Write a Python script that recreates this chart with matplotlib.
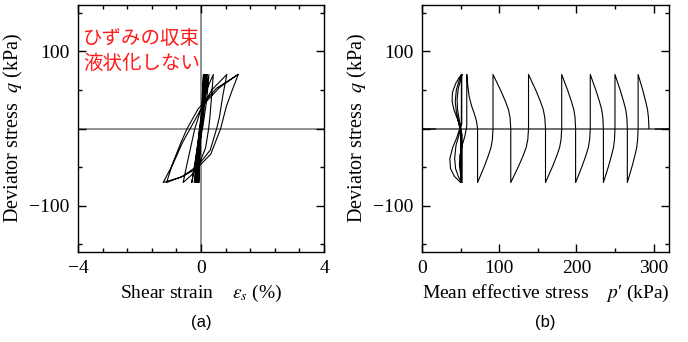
import numpy as np
import matplotlib
matplotlib.use("Agg")
import matplotlib.pyplot as plt

plt.rcParams['font.family'] = ['Liberation Serif', 'DejaVu Serif']
plt.rcParams['mathtext.fontset'] = 'stix'

# (a) shear strain (%) vs deviator stress (kPa), followed point by point
path_a = [
    (0, 0), (0.03, 35), (0.08, 70),
    (0.05, 35), (0.0, 0), (-0.04, -35), (-0.07, -70),
    (-0.04, -35), (0.01, 0), (0.06, 35), (0.11, 70),
    (0.07, 35), (0.0, 0), (-0.05, -35), (-0.10, -70),
    (-0.06, -35), (0.0, 0), (0.07, 35), (0.14, 70),
    (0.09, 35), (0.0, 0), (-0.07, -35), (-0.13, -70),
    (-0.08, -35), (-0.01, 0), (0.08, 35), (0.17, 70),
    (0.10, 35), (0.0, 0), (-0.09, -35), (-0.17, -70),
    (-0.11, -35), (-0.02, 0), (0.09, 35), (0.21, 70),
    (0.13, 35), (0.02, 0), (-0.11, -35), (-0.22, -70),
    (-0.15, -35), (-0.04, 0), (0.11, 35), (0.26, 70),
    (0.18, 35), (0.05, 0), (-0.14, -35), (-0.30, -70),
    (-0.20, -45), (-0.10, -18), (-0.05, 0), (0.03, 25), (0.18, 50), (0.40, 70),
    (0.35, 45), (0.29, 15), (0.25, 0), (0.15, -25), (-0.05, -45), (-0.30, -60), (-0.58, -70),
    (-0.45, -45), (-0.30, -18), (-0.20, 0), (0.0, 25), (0.35, 50), (0.84, 70),
    (0.72, 45), (0.60, 15), (0.51, 0), (0.30, -28), (-0.10, -48), (-0.60, -62), (-1.12, -70),
    (-0.92, -45), (-0.65, -18), (-0.45, 0), (-0.10, 25), (0.50, 52), (1.21, 70),
    (1.00, 48), (0.82, 28), (0.64, 0), (0.32, -33), (-0.14, -52), (-0.65, -63), (-1.23, -70),
    (-0.90, -45), (-0.60, -18), (-0.35, 0), (0.08, 31), (0.60, 53), (1.20, 70),
]

# (b) mean effective stress p' (kPa) vs deviator stress (kPa)
path_b = [
    (294, 0), (293.4, 14), (292.2, 24.5), (289.8, 35), (286.2, 49), (283.1, 59.5), (280, 70),
    (280, 0), (279.4, -14), (278.2, -24.5), (275.8, -35), (272.2, -49), (269.1, -59.5), (266, -70),
    (266, 0), (265.4, 14), (263.9, 24.5), (261.2, 35), (257.0, 49), (253.5, 59.5), (250, 70),
    (250, 0), (249.4, -14), (248.1, -24.5), (245.5, -35), (241.6, -49), (238.3, -59.5), (235, -70),
    (235, 0), (234.3, 14), (232.8, 24.5), (229.9, 35), (225.5, 49), (221.7, 59.5), (218, 70),
    (218, 0), (217.2, -14), (215.5, -24.5), (212.3, -35), (207.4, -49), (203.2, -59.5), (199, -70),
    (199, 0), (198.3, 14), (196.7, 24.5), (193.6, 35), (188.9, 49), (185.0, 59.5), (181, 70),
    (181, 0), (180.2, -14), (178.3, -24.5), (174.7, -35), (169.2, -49), (164.6, -59.5), (160, -70),
    (160, 0), (159.1, 14), (157.1, 24.5), (153.4, 35), (147.7, 49), (142.8, 59.5), (138, 70),
    (138, 0), (137.1, -14), (135.0, -24.5), (131.1, -35), (125.1, -49), (120.1, -59.5), (115, -70),
    (115, 0), (114.1, 14), (112.0, 24.5), (108.1, 35), (102.1, 49), (97.1, 59.5), (92, 70),
    (92, 0), (91.2, -14), (89.4, -24.5), (86.0, -35), (80.8, -49), (76.4, -59.5), (72, -70),
    (72, 0), (70.5, 10), (67.5, 20), (64, 30), (61, 42), (59.3, 56), (58, 70),
    (58, 3), (55.5, -10), (52, -22), (49, -35), (48.5, -48), (50, -60), (52, -70),
    (52, -8), (50, 0), (46, 12), (41.5, 24), (39, 35), (39.5, 47), (43.5, 58), (47.5, 65), (51, 70),
    (51, 8), (49, 0), (45, -12), (40, -24), (36, -39), (37, -52), (42, -62), (46, -66), (50, -70),
    (50, -6), (49, 0), (47, 10), (44.5, 22), (43, 35), (44.5, 50), (48, 62), (51.5, 70),
    (51.5, 6), (50, 0), (47.5, -10), (44, -22), (42.3, -39), (43.5, -52), (47, -62), (51, -70),
    (51, -5), (50, 0), (48.5, 10), (46, 25), (45.5, 38), (47, 52), (50, 63), (52, 70),
]

fig = plt.figure(figsize=(6.88, 3.42), dpi=100)
ax_a = fig.add_axes([78/688, 1-252/342, 246/688, 247/342])
ax_b = fig.add_axes([422/688, 1-252/342, 247/688, 247/342])

grey = '#7f7f7f'
for ax in (ax_a, ax_b):
    ax.set_ylim(-160, 160)
    ax.set_yticks([-100, 0, 100], ['\u2212100', '', '100'])
    ax.set_yticks([-150, -50, 50, 150], minor=True)
    ax.tick_params(which='both', direction='in', top=True, right=True,
                   labelsize=14, width=1)
    ax.tick_params(which='major', length=6, pad=6)
    ax.tick_params(which='minor', length=3)
    for s in ax.spines.values():
        s.set_linewidth(1.0)
    ax.set_ylabel('Deviator stress  $q$ (kPa)', fontsize=14.5, labelpad=3)

# (a)
xa, ya = zip(*path_a)
ax_a.axhline(0, color=grey, lw=1.2, zorder=1)
ax_a.axvline(0, color=grey, lw=1.2, zorder=1)
ax_a.plot(xa, ya, color='black', lw=0.8, zorder=3)
ax_a.set_xlim(-4, 4)
ax_a.set_xticks([-4, 0, 4])
ax_a.set_xticks(np.arange(-3.2, 3.3, 0.8), minor=True)
ax_a.set_xlabel('Shear strain    $\\varepsilon_s$ (%)', fontsize=14, labelpad=4)
ax_a.text(0.02, 0.905, 'ひずみの収束\n液状化しない', transform=ax_a.transAxes,
          color='#ff1a1a', fontsize=14, va='top', ha='left', linespacing=1.2,
          family=['Noto Sans CJK JP', 'DejaVu Sans'])

# (b)
xb, yb = zip(*path_b)
ax_b.axhline(0, color='black', lw=1.2, zorder=1)
ax_b.axhline(0, xmin=20/320, xmax=300/320, color=grey, lw=1.2, zorder=2)
ax_b.plot(xb, yb, color='black', lw=0.8, zorder=3)
ax_b.set_xlim(0, 320)
ax_b.set_xticks([0, 100, 200, 300])
ax_b.set_xticks([50, 150, 250], minor=True)
ax_b.set_xlabel("Mean effective stress    $p$\u2032 (kPa)", fontsize=14, labelpad=4)

fig.text(201/688, 1-323/342, '(a)', ha='center', va='center', fontsize=12,
         family='Liberation Sans')
fig.text(545/688, 1-323/342, '(b)', ha='center', va='center', fontsize=12,
         family='Liberation Sans')

fig.savefig('out.png', dpi=100)
